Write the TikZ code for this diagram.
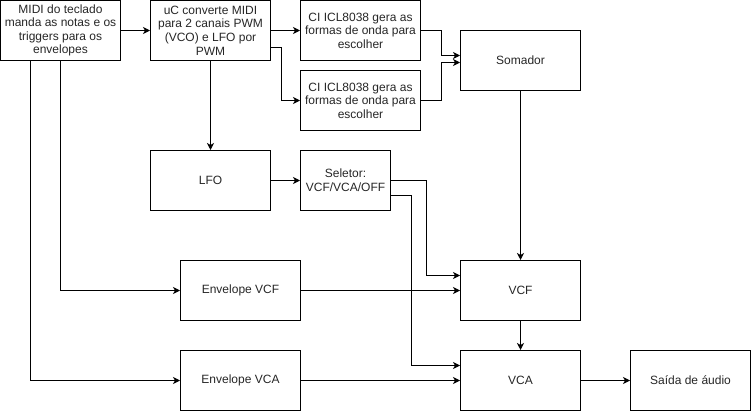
\documentclass[tikz,border=0pt]{standalone}
\usepackage{fontspec}
\setmainfont{Liberation Sans}
\usetikzlibrary{arrows.meta,calc}
\begin{document}
\begin{tikzpicture}[x=1pt,y=-1pt,
  blk/.style={draw,line width=1pt,minimum width=120pt,minimum height=60pt,inner sep=1pt,align=center,text=black!85,font=\fontsize{12}{13.6}\selectfont},
  arr/.style={line width=1pt,-{Stealth[length=7pt,width=7pt,inset=2pt]}}]
\useasboundingbox (0,0) rectangle (751,411);
\node[blk] (midi) at (60.5,30.5) {MIDI do teclado\\manda as notas e os\\triggers para os\\envelopes};
\node[blk] (uc) at (210.5,30.5) {uC converte MIDI\\para 2 canais PWM\\(VCO) e LFO por\\PWM};
\node[blk] (ci1) at (360.5,30.5) {CI ICL8038 gera as\\formas de onda para\\escolher};
\node[blk] (ci2) at (360.5,100.5) {CI ICL8038 gera as\\formas de onda para\\escolher};
\node[blk] (som) at (520.5,60.5) {Somador};
\node[blk] (lfo) at (210.5,180.5) {LFO};
\node[blk,minimum width=90pt] (sel) at (345.5,180.5) {Seletor:\\VCF/VCA/OFF};
\node[blk] (envvcf) at (240.5,290.5) {Envelope VCF};
\node[blk] (vcf) at (520.5,290.5) {VCF};
\node[blk] (envvca) at (240.5,380.5) {Envelope VCA};
\node[blk] (vca) at (520.5,380.5) {VCA};
\node[blk] (out) at (690.5,380.5) {Saída de áudio};
\draw[arr] (midi) -- (uc);
\draw[arr] (uc) -- (ci1);
\draw[arr] ([yshift=-17pt]uc.east) -- ++(10,0) |- (ci2.west);
\draw[arr] (ci1.east) -- ++(20,0) |- ([yshift=5pt]som.west);
\draw[arr] (ci2.east) -- ++(20,0) |- ([yshift=-2pt]som.west);
\draw[arr] (uc) -- (lfo);
\draw[arr] (lfo) -- (sel);
\draw[arr] (sel.east) -- ++(35,0) |- ([yshift=15pt]vcf.west);
\draw[arr] ([yshift=-15pt]sel.east) -- ++(20,0) |- ([yshift=15pt]vca.west);
\draw[arr] ([xshift=60pt]midi.south west) |- (envvcf.west);
\draw[arr] ([xshift=30pt]midi.south west) |- (envvca.west);
\draw[arr] (envvcf) -- (vcf);
\draw[arr] (envvca) -- (vca);
\draw[arr] (som) -- (vcf);
\draw[arr] (vcf) -- (vca);
\draw[arr] (vca) -- (out);
\end{tikzpicture}
\end{document}
